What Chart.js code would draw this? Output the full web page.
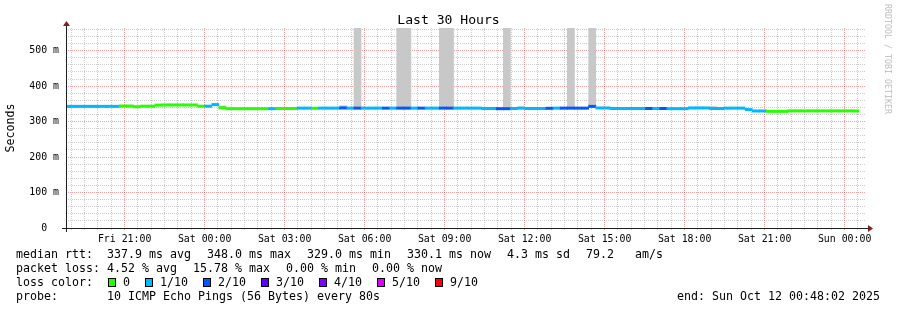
<!DOCTYPE html>
<html>
<head>
<meta charset="utf-8">
<title>Last 30 Hours</title>
<script src="https://cdn.jsdelivr.net/npm/chart.js@4.4.1/dist/chart.umd.min.js"></script>
<style>
  html, body { margin: 0; padding: 0; background: #fff; }
  #wrap { position: relative; width: 897px; height: 310px; overflow: hidden;
          font-family: 'DejaVu Sans Mono', monospace; color: #000; }
  #wrap canvas { position: absolute; left: 0; top: 0; }
  #title { position: absolute; left: 0; top: 12px; width: 897px; text-align: center;
           font-size: 13.1px; line-height: 16px; white-space: pre; }
  #mark { position: absolute; left: 893px; top: 4px; transform: rotate(90deg); transform-origin: 0 0;
          font-size: 8.3px; line-height: 10px; color: #bdbdbd; white-space: pre; }
  .row { position: absolute; left: 16px; display: flex; font-size: 11.63px; line-height: 14px; white-space: pre; }
  .row.stats { gap: 16px; }
  .row.colors { gap: 15px; }
  .row.colors .item { display: flex; align-items: center; }
  .box { width: 6px; height: 7px; border: 1px solid #000; margin-right: 7px; }
  #end { position: absolute; right: 17px; font-size: 11.63px; line-height: 14px; white-space: pre; }
</style>
</head>
<body>
<div id="wrap">
  <canvas id="chart" width="897" height="310"></canvas>
  <div id="title"></div>
  <div id="mark"></div>
  <div class="row stats" id="rowMedian" style="top:247px"></div>
  <div class="row stats" id="rowLoss" style="top:261px"></div>
  <div class="row colors" id="rowColors" style="top:275px"></div>
  <div class="row" id="rowProbe" style="top:289px"></div>
  <div id="end" style="top:289px"></div>
</div>
<script>
// ── labels ──
const chartTitle = 'Last 30 Hours';
const watermark = 'RRDTOOL / TOBI OETIKER';
const yTitle = 'Seconds';

// time window: 30 hours ending Sun 00:48:02 (hours counted from Fri 00:00)
const windowStart = '18:48:02';
const windowHours = 30;
const timeLabels = ['Fri 21:00', 'Sat 00:00', 'Sat 03:00', 'Sat 06:00', 'Sat 09:00',
                    'Sat 12:00', 'Sat 15:00', 'Sat 18:00', 'Sat 21:00', 'Sun 00:00'];
const timeLabelHours = [21, 24, 27, 30, 33, 36, 39, 42, 45, 48];

const yTickValues = [0, 100, 200, 300, 400, 500];
const yTickLabels = ['0  ', '100 m', '200 m', '300 m', '400 m', '500 m'];
const yMaxMs = 564;

// 16-minute bins, first one starts Fri 18:40
const firstBinTime = '18:40';
const binMinutes = 16;

// median rtt per bin (ms)
const medianMs = [
  343, 343, 343, 343, 343, 343, 343, 343, 344, 344, 342, 343.5, 343.5, 346.5, 347, 347,
  347, 347, 347, 343.5, 343.5, 348, 339, 336.5, 336.5, 336.5, 336.5, 336.5, 336.5, 336.5, 337, 337,
  337, 338, 338, 337.5, 338, 338, 338, 338.5, 338, 338, 338, 338, 338, 338, 338, 338,
  338, 338, 338, 338, 338, 338, 338, 338, 338, 338, 338, 337, 337, 336.5, 336.5, 337,
  338, 337, 337, 337, 337.5, 338, 338, 338, 338, 338, 343, 338.5, 338.5, 337, 337, 337,
  337, 337, 337, 337, 337, 336.5, 336.5, 336.5, 338.5, 338.5, 338.5, 337, 337, 338, 338, 338,
  334, 330, 330, 329, 329, 329, 330.3, 330.3, 330.3, 330.3, 330.3, 330.3, 330.3, 330.3, 330.3, 330.1
];

// lost pings out of 10 per bin
const lossTenths = [
  1, 1, 1, 1, 1, 1, 1, 1, 0, 0, 0, 0, 0, 0, 0, 0,
  0, 0, 0, 0, 1, 1, 0, 0, 0, 0, 0, 0, 0, 1, 0, 0,
  0, 1, 1, 0, 1, 1, 1, 2, 1, 2, 1, 1, 1, 2, 1, 2,
  2, 1, 2, 1, 1, 2, 2, 1, 1, 1, 1, 1, 1, 2, 2, 1,
  1, 1, 1, 1, 2, 1, 2, 2, 2, 2, 2, 1, 1, 1, 1, 1,
  1, 1, 2, 1, 2, 1, 1, 1, 1, 1, 1, 1, 1, 1, 1, 1,
  1, 1, 1, 0, 0, 0, 0, 0, 0, 0, 0, 0, 0, 0, 0, 0
];

// bins with visible smoke (ping spread above the median) and the smoke top (ms)
const smokeBins = [22, 39, 41, 47, 48, 53, 54, 62, 64, 71, 74, 91];
const smokeTopMs = [344.5, 345, 564, 564, 564, 564, 564, 564, 341.5, 564, 564, 342.5];

// loss colour legend
const lossLegendLabels = ['0', '1/10', '2/10', '3/10', '4/10', '5/10', '9/10'];
const lossLegendSteps = [0, 1, 2, 3, 4, 5, 9];
const lossLegendColors = ['#26ff00', '#00b8ff', '#0059ff', '#5e00ff', '#7e00ff', '#dd00ff', '#ff0000'];

// legend text
const medianStats = ['median rtt:  337.9 ms avg', '348.0 ms max', '329.0 ms min', '330.1 ms now', '4.3 ms sd', '79.2   am/s'];
const lossStats = ['packet loss: 4.52 % avg', '15.78 % max', '0.00 % min', '0.00 % now'];
const lossColorLabel = 'loss color:';
const probeText = 'probe:       10 ICMP Echo Pings (56 Bytes) every 80s';
const endText = 'end: Sun Oct 12 00:48:02 2025';

// ── styles ──
const FONT = "'DejaVu Sans Mono', monospace";
const GRID = 'rgba(143,143,143,0.45)';
const MGRID = 'rgba(222,79,79,0.55)';
const SMOKE = '#c8c8c8';
const bandHalfMs = 3.3;   // median band is ~2-3px thick

const hourOf = t => {
    const [h, m, s = 0] = t.split(':').map(Number);
    return h + m / 60 + s / 3600;
};
const startHour = hourOf(windowStart);
const endHour = startHour + windowHours;
const bin0 = hourOf(firstBinTime);
const binCenter = i => bin0 + (i + 0.5) * binMinutes / 60;

function lossColor(l) {
    let c = lossLegendColors[0];
    lossLegendSteps.forEach((s, i) => { if (l >= s) c = lossLegendColors[i]; });
    return c;
}

const bandData = medianMs.map((v, i) => ({ x: binCenter(i), y: [v - bandHalfMs, v + bandHalfMs] }));
const bandColors = lossTenths.map(lossColor);
const smokeData = smokeBins.map((b, i) => ({ x: binCenter(b), y: [medianMs[b], smokeTopMs[i]] }));

// grid every 30 minutes / 20 ms
const xGrid = [];
for (let h = Math.ceil(startHour * 2); h <= Math.floor(endHour * 2); h++) xGrid.push(h / 2);
const yGrid = [];
for (let v = 0; v < yMaxMs; v += 20) yGrid.push(v);

// axes with arrows, RRDtool style
const axisArrows = {
    id: 'axisArrows',
    afterDraw(chart) {
        const { ctx, chartArea: a } = chart;
        const x0 = a.left + 0.5, y0 = a.bottom + 0.5;
        ctx.save();
        ctx.strokeStyle = '#1f1f1f';
        ctx.lineWidth = 1;
        ctx.beginPath();
        ctx.moveTo(a.left - 4, y0); ctx.lineTo(a.right + 4, y0);
        ctx.moveTo(x0, a.bottom + 4); ctx.lineTo(x0, a.top - 4);
        ctx.stroke();
        ctx.fillStyle = '#7f1f1f';
        ctx.beginPath();
        ctx.moveTo(a.right + 2, y0 - 3.5); ctx.lineTo(a.right + 2, y0 + 3.5); ctx.lineTo(a.right + 7, y0);
        ctx.closePath(); ctx.fill();
        ctx.beginPath();
        ctx.moveTo(x0 - 3.5, a.top - 2); ctx.lineTo(x0 + 3.5, a.top - 2); ctx.lineTo(x0, a.top - 7);
        ctx.closePath(); ctx.fill();
        ctx.restore();
    }
};

new Chart(document.getElementById('chart'), {
    type: 'bar',
    data: {
        datasets: [
            {
                label: 'median',
                data: bandData,
                backgroundColor: bandColors,
                borderWidth: 0,
                grouped: false,
                order: 0,
                clip: 0,
                barPercentage: 1,
                categoryPercentage: 1
            },
            {
                label: 'smoke',
                data: smokeData,
                backgroundColor: SMOKE,
                borderWidth: 0,
                grouped: false,
                order: 1,
                clip: 0,
                barPercentage: 1,
                categoryPercentage: 1
            }
        ]
    },
    options: {
        responsive: false,
        animation: false,
        events: [],
        layout: { padding: { left: 0, top: 28, right: 31, bottom: 0 } },
        plugins: { legend: { display: false }, tooltip: { enabled: false } },
        scales: {
            x: {
                type: 'linear',
                min: startHour,
                max: endHour,
                offset: false,
                afterBuildTicks: s => { s.ticks = xGrid.map(v => ({ value: v })); },
                afterFit: s => { s.height = 82; },
                grid: {
                    offset: false,
                    lineWidth: 1,
                    color: c => (c.tick && c.tick.value % 3 === 0) ? MGRID : GRID,
                    tickColor: c => (c.tick && c.tick.value % 3 === 0) ? MGRID : GRID,
                    drawTicks: true,
                    tickLength: 2
                },
                border: { display: false, dash: [1, 1] },
                ticks: {
                    autoSkip: false,
                    maxRotation: 0,
                    minRotation: 0,
                    padding: 3,
                    color: '#000',
                    font: { family: FONT, size: 9.9 },
                    callback: v => {
                        const i = timeLabelHours.indexOf(v);
                        return i >= 0 ? timeLabels[i] : '';
                    }
                }
            },
            y: {
                min: 0,
                max: yMaxMs,
                afterBuildTicks: s => { s.ticks = yGrid.map(v => ({ value: v })); },
                afterFit: s => { s.width = 66; },
                grid: {
                    lineWidth: 1,
                    color: c => (c.tick && c.tick.value % 100 === 0) ? MGRID : GRID,
                    drawTicks: false
                },
                border: { display: false, dash: [1, 1] },
                ticks: {
                    autoSkip: false,
                    padding: 7,
                    color: '#000',
                    font: { family: FONT, size: 9.9 },
                    callback: v => {
                        const i = yTickValues.indexOf(v);
                        return i >= 0 ? yTickLabels[i] : '';
                    }
                },
                title: {
                    display: true,
                    text: yTitle,
                    color: '#000',
                    font: { family: FONT, size: 11.63 },
                    padding: { top: 4, bottom: 0 }
                }
            }
        }
    },
    plugins: [axisArrows]
});

// ── text around the graph ──
document.getElementById('title').textContent = chartTitle;
document.getElementById('mark').textContent = watermark;

function fillStats(id, items) {
    const row = document.getElementById(id);
    items.forEach(t => {
        const s = document.createElement('span');
        s.textContent = t;
        row.appendChild(s);
    });
}
fillStats('rowMedian', medianStats);
fillStats('rowLoss', lossStats);

const colorRow = document.getElementById('rowColors');
const lc = document.createElement('span');
lc.textContent = lossColorLabel;
colorRow.appendChild(lc);
lossLegendLabels.forEach((lab, i) => {
    const item = document.createElement('span');
    item.className = 'item';
    const box = document.createElement('span');
    box.className = 'box';
    box.style.background = lossLegendColors[i];
    const t = document.createElement('span');
    t.textContent = lab;
    item.appendChild(box);
    item.appendChild(t);
    colorRow.appendChild(item);
});

document.getElementById('rowProbe').textContent = probeText;
document.getElementById('end').textContent = endText;
</script>
</body>
</html>
